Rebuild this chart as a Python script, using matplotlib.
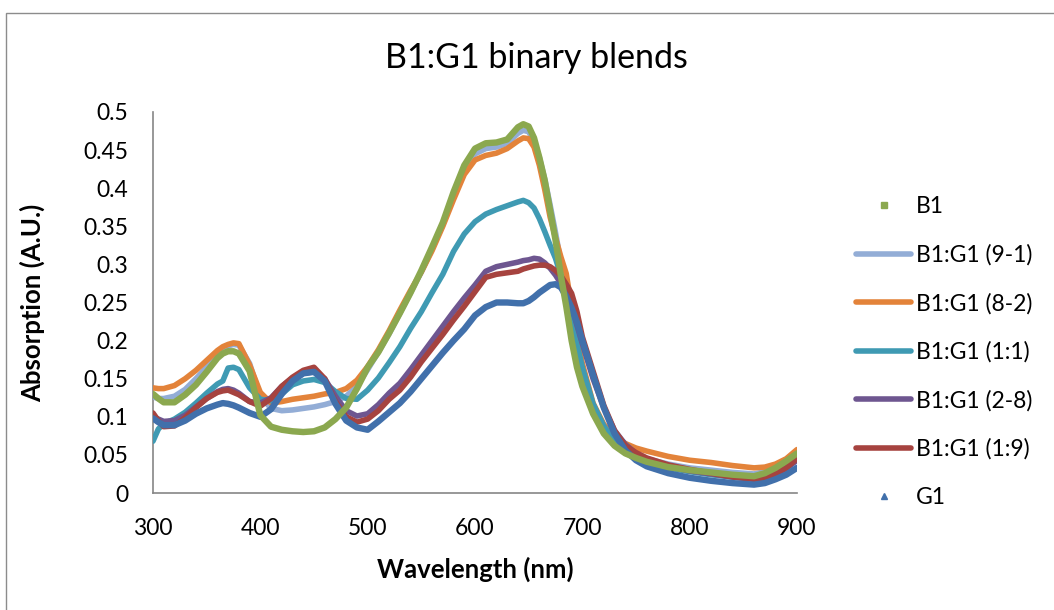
import matplotlib
matplotlib.use("Agg")
from matplotlib import pyplot as plt
from matplotlib.lines import Line2D
from matplotlib.patches import Rectangle

# wavelength grid (nm), shared by all series
wavelength = [300, 305, 310, 320, 330, 340, 350, 360, 365, 370, 375, 380, 390,
              400, 410, 420, 430, 440, 450, 460, 470, 480, 490, 500, 510, 520,
              530, 540, 550, 560, 570, 580, 590, 600, 610, 620, 630, 640, 645,
              650, 655, 660, 665, 670, 675, 680, 685, 690, 695, 700, 710, 720,
              730, 740, 750, 760, 780, 800, 820, 840, 860, 870, 880, 890, 900]

b1 = [0.130, 0.124, 0.119, 0.119, 0.129, 0.142, 0.159, 0.177, 0.183, 0.186, 0.186, 0.183, 0.160,
      0.102, 0.087, 0.083, 0.081, 0.080, 0.081, 0.086, 0.097, 0.112, 0.137, 0.165, 0.185, 0.210,
      0.236, 0.263, 0.292, 0.323, 0.355, 0.395, 0.430, 0.452, 0.459, 0.460, 0.464, 0.480, 0.484,
      0.481, 0.466, 0.440, 0.410, 0.371, 0.332, 0.285, 0.245, 0.200, 0.165, 0.140, 0.104, 0.078,
      0.062, 0.052, 0.046, 0.041, 0.034, 0.030, 0.027, 0.024, 0.022, 0.026, 0.033, 0.042, 0.052]

bg_91 = [0.126, 0.124, 0.124, 0.127, 0.136, 0.150, 0.165, 0.180, 0.188, 0.193, 0.195, 0.194, 0.170,
         0.127, 0.111, 0.108, 0.109, 0.111, 0.113, 0.116, 0.120, 0.127, 0.140, 0.162, 0.185, 0.209,
         0.236, 0.263, 0.290, 0.320, 0.352, 0.390, 0.424, 0.445, 0.452, 0.454, 0.459, 0.472, 0.476,
         0.474, 0.462, 0.440, 0.412, 0.378, 0.342, 0.303, 0.268, 0.228, 0.190, 0.160, 0.115, 0.087,
         0.069, 0.058, 0.050, 0.045, 0.038, 0.033, 0.030, 0.027, 0.025, 0.028, 0.034, 0.042, 0.050]

bg_82 = [0.138, 0.137, 0.137, 0.141, 0.150, 0.161, 0.174, 0.187, 0.192, 0.195, 0.197, 0.196, 0.168,
         0.132, 0.118, 0.120, 0.123, 0.125, 0.127, 0.130, 0.132, 0.137, 0.148, 0.166, 0.188, 0.213,
         0.240, 0.266, 0.290, 0.318, 0.350, 0.385, 0.418, 0.437, 0.443, 0.446, 0.452, 0.462, 0.466,
         0.465, 0.454, 0.430, 0.398, 0.362, 0.335, 0.310, 0.288, 0.245, 0.205, 0.170, 0.118, 0.090,
         0.075, 0.065, 0.059, 0.055, 0.048, 0.043, 0.040, 0.036, 0.033, 0.034, 0.038, 0.045, 0.057]

bg_11 = [0.068, 0.084, 0.091, 0.097, 0.106, 0.118, 0.131, 0.143, 0.147, 0.164, 0.165, 0.162, 0.138,
         0.123, 0.121, 0.130, 0.142, 0.147, 0.149, 0.145, 0.133, 0.124, 0.123, 0.135, 0.151, 0.171,
         0.192, 0.216, 0.238, 0.263, 0.287, 0.317, 0.340, 0.356, 0.366, 0.372, 0.377, 0.382, 0.384,
         0.381, 0.374, 0.360, 0.343, 0.325, 0.308, 0.285, 0.258, 0.230, 0.196, 0.165, 0.117, 0.088,
         0.068, 0.055, 0.047, 0.041, 0.033, 0.028, 0.024, 0.021, 0.019, 0.022, 0.027, 0.034, 0.044]

bg_28 = [0.100, 0.097, 0.094, 0.095, 0.102, 0.113, 0.124, 0.133, 0.136, 0.137, 0.135, 0.131, 0.120,
         0.118, 0.125, 0.140, 0.151, 0.157, 0.159, 0.150, 0.127, 0.108, 0.101, 0.104, 0.116, 0.131,
         0.144, 0.162, 0.181, 0.200, 0.219, 0.238, 0.256, 0.273, 0.291, 0.297, 0.300, 0.303, 0.305,
         0.306, 0.308, 0.307, 0.302, 0.295, 0.286, 0.275, 0.262, 0.245, 0.220, 0.196, 0.150, 0.112,
         0.082, 0.064, 0.052, 0.045, 0.035, 0.029, 0.025, 0.021, 0.018, 0.020, 0.025, 0.032, 0.043]

bg_19 = [0.105, 0.095, 0.087, 0.088, 0.099, 0.112, 0.124, 0.132, 0.134, 0.135, 0.132, 0.129, 0.120,
         0.114, 0.124, 0.140, 0.152, 0.161, 0.165, 0.150, 0.120, 0.100, 0.093, 0.097, 0.108, 0.123,
         0.135, 0.152, 0.172, 0.190, 0.208, 0.227, 0.245, 0.264, 0.283, 0.287, 0.289, 0.291, 0.294,
         0.296, 0.298, 0.299, 0.299, 0.297, 0.292, 0.285, 0.274, 0.262, 0.238, 0.205, 0.160, 0.115,
         0.082, 0.062, 0.053, 0.046, 0.037, 0.031, 0.026, 0.021, 0.018, 0.020, 0.026, 0.033, 0.045]

g1 = [0.098, 0.093, 0.089, 0.089, 0.095, 0.104, 0.111, 0.116, 0.118, 0.117, 0.115, 0.112, 0.105,
      0.100, 0.110, 0.130, 0.147, 0.157, 0.159, 0.147, 0.117, 0.095, 0.086, 0.083, 0.094, 0.106,
      0.118, 0.133, 0.150, 0.167, 0.184, 0.200, 0.215, 0.233, 0.244, 0.250, 0.250, 0.249, 0.249,
      0.252, 0.257, 0.263, 0.268, 0.273, 0.274, 0.270, 0.258, 0.243, 0.224, 0.200, 0.155, 0.112,
      0.078, 0.056, 0.043, 0.035, 0.026, 0.020, 0.016, 0.013, 0.011, 0.013, 0.018, 0.024, 0.033]

labels = ['B1', 'B1:G1 (9-1)', 'B1:G1 (8-2)', 'B1:G1 (1:1)', 'B1:G1 (2-8)', 'B1:G1 (1:9)', 'G1']
series = [b1, bg_91, bg_82, bg_11, bg_28, bg_19, g1]
colors = ['#8BA84F', '#93ADD6', '#E3833A', '#3F9AB3', '#6E5690', '#A6433F', '#4170AB']

x_ticks = [300, 400, 500, 600, 700, 800, 900]
y_ticks = [0, 0.05, 0.1, 0.15, 0.2, 0.25, 0.3, 0.35, 0.4, 0.45, 0.5]
y_tick_labels = ['0', '0.05', '0.1', '0.15', '0.2', '0.25', '0.3', '0.35', '0.4', '0.45', '0.5']

plt.rcParams['font.family'] = ['Lato', 'DejaVu Sans']

fig = plt.figure(figsize=(10.54, 6.10), dpi=100)
ax = fig.add_axes([153 / 1054, 1 - 493 / 610, 644 / 1054, 381 / 610])

# chart border (runs off the right and bottom edge)
fig.patches.append(Rectangle((6 / 1054, -0.1), 1.2, 1.1 - 13 / 610,
                             transform=fig.transFigure, fill=False,
                             edgecolor='#8c8c8c', linewidth=1.0))

# later series sit on top, B1 kept above the rest like the markers in the original
for i, (vals, lab, col) in enumerate(zip(series, labels, colors)):
    z = 10 if i == 0 else 2 + i
    lw = 4.6 if i in (0, 6) else 4.0
    ax.plot(wavelength, vals, color=col, linewidth=lw, solid_capstyle='round',
            solid_joinstyle='round', zorder=z)

ax.set_xlim(300, 900)
ax.set_ylim(0, 0.5)
ax.set_xticks(x_ticks)
ax.set_yticks(y_ticks)
ax.set_yticklabels(y_tick_labels)
ax.tick_params(axis='both', length=0, labelsize=16.5, colors='black')
ax.tick_params(axis='x', pad=18)
ax.tick_params(axis='y', pad=18)

for side in ['top', 'right']:
    ax.spines[side].set_visible(False)
for side in ['left', 'bottom']:
    ax.spines[side].set_color('#868686')
    ax.spines[side].set_linewidth(1.2)

ax.set_xlabel('Wavelength (nm)', fontsize=18.5, fontweight='bold', labelpad=13)
ax.set_ylabel('Absorption (A.U.)', fontsize=18.5, fontweight='bold', labelpad=27)
fig.text(536 / 1054, 1 - 58 / 610, 'B1:G1 binary blends', fontsize=24.5,
         ha='center', va='center')

# legend: markers for B1 and G1, lines for the blends
handles = [Line2D([], [], color=colors[0], marker='s', linestyle='none', markersize=5)]
for col in colors[1:-1]:
    handles.append(Line2D([], [], color=col, linewidth=4.0, solid_capstyle='round'))
handles.append(Line2D([], [], color=colors[-1], marker='^', linestyle='none', markersize=5))

fig.legend(handles, labels, loc='upper left', bbox_to_anchor=(856 / 1054, 1 - 196 / 610),
           frameon=False, fontsize=16.5, handlelength=2.4, handletextpad=0.2,
           labelspacing=1.18, borderpad=0, borderaxespad=0)

fig.savefig('out.png', dpi=100)
